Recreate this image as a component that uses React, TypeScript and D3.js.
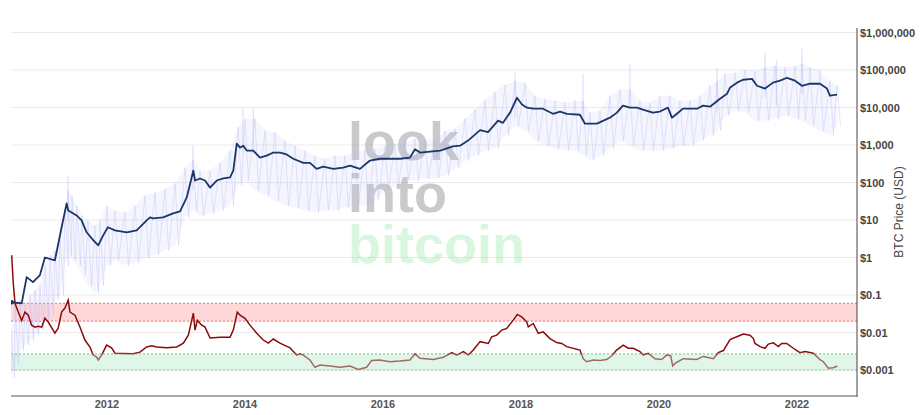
import React, { useEffect, useRef } from 'react'
import * as d3 from 'd3'

// BTC price (decimal year, USD)
const priceSeries: [number, number][] = [
  [2010.619, 0.064], [2010.764, 0.06], [2010.836, 0.3], [2010.928, 0.22], [2011.029, 0.34], [2011.101, 1.0],
  [2011.246, 0.84], [2011.343, 6.4], [2011.416, 27.6], [2011.439, 18], [2011.561, 13.2], [2011.633, 9.8],
  [2011.706, 4.7], [2011.801, 2.9], [2011.874, 2.1], [2011.946, 3.9], [2012.014, 6.4], [2012.116, 5.3],
  [2012.286, 4.7], [2012.43, 5.3], [2012.575, 9.8], [2012.623, 11.7], [2012.667, 11], [2012.812, 11.7],
  [2012.957, 15], [2013.058, 17], [2013.155, 40], [2013.251, 208], [2013.275, 113], [2013.348, 128],
  [2013.42, 113], [2013.493, 73], [2013.59, 113], [2013.686, 128], [2013.783, 137], [2013.83, 208],
  [2013.88, 1090], [2013.928, 850], [2013.975, 960], [2014.025, 710], [2014.12, 710], [2014.217, 460],
  [2014.314, 520], [2014.41, 630], [2014.507, 630], [2014.604, 560], [2014.7, 430], [2014.845, 335],
  [2014.942, 335], [2015.039, 230], [2015.135, 265], [2015.28, 230], [2015.425, 250], [2015.522, 283],
  [2015.667, 230], [2015.812, 385], [2015.957, 430], [2016.246, 430], [2016.391, 460], [2016.464, 770],
  [2016.536, 630], [2016.826, 710], [2017.014, 920], [2017.116, 960], [2017.232, 1310], [2017.406, 2500],
  [2017.522, 2200], [2017.667, 4460], [2017.739, 3900], [2017.841, 7300], [2017.942, 18200], [2018.014, 12000],
  [2018.087, 9900], [2018.174, 9300], [2018.319, 9300], [2018.464, 6800], [2018.565, 7800], [2018.667, 6800],
  [2018.855, 6400], [2018.928, 3700], [2019.101, 3700], [2019.29, 5350], [2019.391, 7300], [2019.478, 11200],
  [2019.58, 9900], [2019.681, 9900], [2019.768, 8800], [2019.913, 7300], [2020.014, 7800], [2020.13, 9900],
  [2020.188, 5350], [2020.261, 6800], [2020.348, 9300], [2020.551, 9300], [2020.638, 11200], [2020.739, 10500],
  [2020.884, 17100], [2020.986, 23300], [2021.029, 34000], [2021.13, 46000], [2021.217, 55000], [2021.348, 58000],
  [2021.42, 38000], [2021.536, 32000], [2021.652, 46000], [2021.754, 52000], [2021.855, 62000], [2021.971, 52000],
  [2022.072, 38000], [2022.188, 43000], [2022.333, 43000], [2022.435, 32000], [2022.478, 20600], [2022.58, 22000],
]

// ratio indicator (decimal year, value)
const ratioSeries: [number, number][] = [
  [2010.619, 1.15], [2010.642, 0.206], [2010.667, 0.06], [2010.714, 0.035], [2010.764, 0.021], [2010.812, 0.035],
  [2010.859, 0.029], [2010.908, 0.0157], [2010.957, 0.0139], [2011.004, 0.0147], [2011.054, 0.0139], [2011.101, 0.024],
  [2011.149, 0.019], [2011.246, 0.0096], [2011.293, 0.013], [2011.343, 0.035], [2011.391, 0.045], [2011.439, 0.073],
  [2011.464, 0.035], [2011.536, 0.029], [2011.609, 0.014], [2011.681, 0.0063], [2011.754, 0.0041], [2011.801, 0.0025],
  [2011.851, 0.0022], [2011.874, 0.00185], [2011.923, 0.0025], [2011.996, 0.0046], [2012.068, 0.0039], [2012.116, 0.0028],
  [2012.377, 0.0027], [2012.478, 0.003], [2012.575, 0.0041], [2012.648, 0.0044], [2012.72, 0.0041], [2012.865, 0.0039],
  [2013.01, 0.0041], [2013.106, 0.0052], [2013.178, 0.0085], [2013.251, 0.033], [2013.275, 0.0116], [2013.309, 0.021],
  [2013.372, 0.0157], [2013.42, 0.0139], [2013.493, 0.0071], [2013.638, 0.0075], [2013.783, 0.0075], [2013.83, 0.0116],
  [2013.888, 0.035], [2013.928, 0.029], [2014.0, 0.024], [2014.072, 0.0157], [2014.17, 0.0096], [2014.265, 0.0063],
  [2014.338, 0.0052], [2014.41, 0.0067], [2014.507, 0.0052], [2014.652, 0.0039], [2014.749, 0.0025], [2014.797, 0.0027],
  [2014.845, 0.0025], [2014.942, 0.00185], [2015.014, 0.00118], [2015.087, 0.00136], [2015.232, 0.00128], [2015.377, 0.00118],
  [2015.522, 0.00128], [2015.642, 0.00104], [2015.764, 0.00118], [2015.836, 0.0018], [2015.957, 0.00185], [2016.101, 0.00166],
  [2016.246, 0.00174], [2016.391, 0.00185], [2016.464, 0.0027], [2016.536, 0.00205], [2016.729, 0.0019], [2016.874, 0.00218],
  [2016.996, 0.0029], [2017.068, 0.0025], [2017.164, 0.0031], [2017.236, 0.0025], [2017.309, 0.0034], [2017.406, 0.0057],
  [2017.526, 0.0051], [2017.575, 0.0077], [2017.648, 0.0085], [2017.72, 0.0116], [2017.793, 0.0128], [2017.888, 0.0214],
  [2017.946, 0.0303], [2018.01, 0.026], [2018.083, 0.0193], [2018.106, 0.0141], [2018.178, 0.0174], [2018.251, 0.0095],
  [2018.323, 0.0104], [2018.42, 0.0069], [2018.517, 0.0054], [2018.59, 0.0051], [2018.662, 0.0042], [2018.855, 0.0034],
  [2018.903, 0.002], [2018.952, 0.00166], [2019.048, 0.00185], [2019.145, 0.0018], [2019.242, 0.0019], [2019.314, 0.00236],
  [2019.386, 0.0034], [2019.483, 0.0046], [2019.555, 0.0038], [2019.628, 0.0038], [2019.725, 0.0031], [2019.772, 0.0025],
  [2019.845, 0.0028], [2019.942, 0.002], [2020.039, 0.0019], [2020.112, 0.0025], [2020.17, 0.0024], [2020.199, 0.00128],
  [2020.232, 0.0015], [2020.352, 0.002], [2020.546, 0.0019], [2020.642, 0.0023], [2020.787, 0.002], [2020.859, 0.0029],
  [2020.932, 0.0033], [2021.029, 0.0065], [2021.126, 0.0077], [2021.222, 0.0091], [2021.319, 0.0085], [2021.367, 0.0069],
  [2021.391, 0.0051], [2021.464, 0.0042], [2021.536, 0.0038], [2021.584, 0.0049], [2021.657, 0.0053], [2021.729, 0.0042],
  [2021.778, 0.0051], [2021.851, 0.0051], [2021.946, 0.0038], [2022.043, 0.0029], [2022.116, 0.0031], [2022.236, 0.0028],
  [2022.333, 0.0019], [2022.381, 0.00166], [2022.454, 0.00111], [2022.526, 0.00115], [2022.584, 0.00128],
]

// noisy daily series, read as typical high / low envelope
const noiseYears = [
  2010.609, 2010.667, 2010.739, 2010.812, 2010.884, 2010.957, 2011.029, 2011.101, 2011.174, 2011.246, 2011.319, 2011.391,
  2011.435, 2011.493, 2011.565, 2011.638, 2011.725, 2011.826, 2011.899, 2012.0, 2012.116, 2012.261, 2012.406, 2012.551,
  2012.696, 2012.841, 2012.986, 2013.13, 2013.246, 2013.348, 2013.493, 2013.638, 2013.783, 2013.899, 2014.0, 2014.145,
  2014.29, 2014.435, 2014.58, 2014.725, 2014.87, 2015.014, 2015.159, 2015.304, 2015.449, 2015.594, 2015.739, 2015.884,
  2016.029, 2016.174, 2016.319, 2016.464, 2016.609, 2016.754, 2016.899, 2017.043, 2017.188, 2017.333, 2017.478, 2017.623,
  2017.768, 2017.913, 2018.058, 2018.203, 2018.348, 2018.493, 2018.638, 2018.783, 2018.899, 2019.0, 2019.145, 2019.29,
  2019.435, 2019.58, 2019.725, 2019.87, 2020.014, 2020.159, 2020.304, 2020.449, 2020.594, 2020.739, 2020.841, 2020.957,
  2021.101, 2021.246, 2021.391, 2021.536, 2021.681, 2021.826, 2021.971, 2022.072, 2022.188, 2022.333, 2022.478, 2022.58,
]
const noiseHigh = [
  0.0116, 0.054, 0.073, 0.054, 0.1, 0.134, 0.18, 0.62, 1.15, 1.55, 3.9, 20,
  60, 45, 24, 13, 9.8, 7.2, 9.8, 24, 18, 16, 24, 45,
  54, 67, 94, 250, 400, 208, 208, 340, 710, 3000, 5000, 5000,
  2410, 2200, 1310, 960, 710, 520, 430, 520, 520, 630, 710, 800,
  960, 1090, 1170, 1490, 1310, 1490, 2410, 2700, 5000, 9000, 16000, 26000,
  40000, 50000, 45000, 20600, 17000, 15200, 13500, 15200, 15000, 7300, 8200, 20600,
  30000, 30000, 15200, 13500, 20600, 20600, 15200, 15200, 20600, 38000, 50000, 80000,
  84000, 100000, 95000, 120000, 130000, 120000, 130000, 150000, 120000, 95000, 52000, 38000,
]
const noiseLow = [
  0.00065, 0.0014, 0.0034, 0.0046, 0.0063, 0.0085, 0.0116, 0.021, 0.029, 0.073, 0.1, 0.62,
  1.15, 0.84, 0.62, 0.34, 0.18, 0.11, 0.18, 0.62, 0.84, 0.62, 0.74, 0.95,
  1.15, 1.55, 2.1, 11.7, 18, 13, 15, 18, 24, 83, 113, 61,
  45, 33, 24, 21.6, 18, 16, 18, 18, 21.6, 24, 24, 33,
  61, 83, 113, 113, 128, 128, 154, 236, 385, 520, 710, 800,
  1780, 3280, 2410, 1310, 960, 800, 710, 710, 520, 385, 520, 800,
  1310, 960, 710, 710, 710, 800, 960, 960, 1310, 1780, 2410, 6050,
  8200, 7300, 4460, 4460, 5000, 6050, 5000, 4460, 3280, 2410, 1780, 3280,
]
// isolated spikes above the envelope
const noiseSpikes: [number, number][] = [
  [2011.435, 154], [2013.246, 960], [2013.97, 9300], [2014.12, 9300], [2017.913, 84000], [2018.899, 79000],
  [2019.58, 146000], [2020.841, 115000], [2021.536, 287000], [2021.7, 176000], [2022.072, 366000],
]

const yTicks = [1e6, 1e5, 1e4, 1e3, 100, 10, 1, 0.1, 0.01, 0.001]
const tickLabels = ['$1,000,000', '$100,000', '$10,000', '$1,000', '$100', '$10', '$1', '$0.1', '$0.01', '$0.001']
const redBand = [0.02, 0.06]
const greenBand = [0.001, 0.0027]

const toDate = (y: number) => {
  const yr = Math.floor(y)
  const a = Date.UTC(yr, 0, 1), b = Date.UTC(yr + 1, 0, 1)
  return new Date(a + (y - yr) * (b - a))
}

export default function App() {
  const ref = useRef<SVGSVGElement | null>(null)

  useEffect(() => {
    const svg = d3.select(ref.current!)
    svg.selectAll('*').remove()
    const left = 11, right = 857, top = 28, bottom = 396

    const x = d3.scaleTime().domain([toDate(2010.609), toDate(2022.87)]).range([left, right])
    const y = d3.scaleLog().domain([1e-3, 1e6]).range([370, 32.5])

    const defs = svg.append('defs')
    defs.append('clipPath').attr('id', 'plot').append('rect')
      .attr('x', left).attr('y', top).attr('width', right - left).attr('height', bottom - top)
    const grad = defs.append('linearGradient').attr('id', 'ratioGrad')
      .attr('gradientUnits', 'userSpaceOnUse').attr('x1', 0).attr('x2', 0).attr('y1', y(0.01)).attr('y2', y(0.001))
    grad.append('stop').attr('offset', 0).attr('stop-color', '#8b0a0a')
    grad.append('stop').attr('offset', 0.52).attr('stop-color', '#8b0a0a')
    grad.append('stop').attr('offset', 0.62).attr('stop-color', '#9e6b62')
    grad.append('stop').attr('offset', 1).attr('stop-color', '#9e6b62')

    // gridlines
    svg.append('g').selectAll('line').data(yTicks).enter().append('line')
      .attr('x1', left).attr('x2', right).attr('y1', d => y(d)).attr('y2', d => y(d))
      .attr('stroke', '#ebebeb').attr('stroke-width', 1.2)

    // bands
    const bands = [
      { r: redBand, fill: 'rgba(255,80,80,0.22)', stroke: '#f08a8a' },
      { r: greenBand, fill: 'rgba(60,200,120,0.16)', stroke: '#8fcf9c' },
    ]
    bands.forEach(b => {
      svg.append('rect').attr('x', left).attr('width', right - left)
        .attr('y', y(b.r[1])).attr('height', y(b.r[0]) - y(b.r[1])).attr('fill', b.fill)
      b.r.forEach(v => svg.append('line').attr('x1', left).attr('x2', right).attr('y1', y(v)).attr('y2', y(v))
        .attr('stroke', b.stroke).attr('stroke-width', 1.2).attr('stroke-dasharray', '2,2'))
    })

    // watermark
    const wm = svg.append('g').attr('font-family', '"Liberation Sans", Arial, sans-serif').attr('font-weight', 700).attr('font-size', 54)
    wm.append('text').attr('x', 348).attr('y', 160).attr('fill', 'rgba(150,150,150,0.5)').text('look')
    wm.append('text').attr('x', 348).attr('y', 212).attr('fill', 'rgba(150,150,150,0.5)').text('into')
    wm.append('text').attr('x', 348).attr('y', 263).attr('fill', 'rgba(120,225,140,0.28)').text('bitcoin')

    const plot = svg.append('g').attr('clip-path', 'url(#plot)')

    // noisy series
    const idx = noiseYears.map((_, i) => i)
    const area = d3.area<number>().x(i => x(toDate(noiseYears[i]))).y0(i => y(noiseLow[i])).y1(i => y(noiseHigh[i]))
    plot.append('path').datum(idx).attr('d', area).attr('fill', 'rgba(190,190,250,0.16)')
    const zig: [number, number][] = []
    idx.forEach(i => {
      const t = x(toDate(noiseYears[i]))
      zig.push([t, y(noiseHigh[i])])
      zig.push([t + 3.5, y(noiseLow[i])])
    })
    plot.append('path').datum(zig).attr('d', d3.line()).attr('fill', 'none')
      .attr('stroke', 'rgba(180,180,250,0.42)').attr('stroke-width', 0.8)
    plot.append('g').selectAll('line').data(noiseSpikes).enter().append('line')
      .attr('x1', d => x(toDate(d[0]))).attr('x2', d => x(toDate(d[0])))
      .attr('y1', d => y(d[1])).attr('y2', d => y(d[1]) + 45)
      .attr('stroke', 'rgba(180,180,250,0.5)').attr('stroke-width', 1)

    // ratio line
    const line = d3.line<[number, number]>().x(d => x(toDate(d[0]))).y(d => y(d[1]))
    plot.append('path').datum(ratioSeries).attr('d', line).attr('fill', 'none')
      .attr('stroke', 'url(#ratioGrad)').attr('stroke-width', 1.5)

    // price line
    plot.append('path').datum(priceSeries).attr('d', line).attr('fill', 'none')
      .attr('stroke', '#1b3768').attr('stroke-width', 1.8).attr('stroke-linejoin', 'round')
    plot.append('circle').attr('cx', x(toDate(priceSeries[0][0]))).attr('cy', y(priceSeries[0][1])).attr('r', 2.2).attr('fill', '#1b3768')

    // axes
    svg.append('line').attr('x1', left).attr('x2', right).attr('y1', bottom).attr('y2', bottom).attr('stroke', '#aaa').attr('stroke-width', 2)
    svg.append('line').attr('x1', right).attr('x2', right).attr('y1', top).attr('y2', bottom + 1).attr('stroke', '#444').attr('stroke-width', 1)

    svg.append('g').selectAll('text').data(x.ticks(d3.timeYear.every(2)!)).enter().append('text')
      .attr('x', d => x(d)).attr('y', 408).attr('text-anchor', 'middle')
      .attr('font-family', 'Arial, "Liberation Sans", sans-serif').attr('font-weight', 700).attr('font-size', 11).attr('fill', '#555')
      .text(d => d3.timeFormat('%Y')(d))

    svg.append('g').selectAll('text').data(yTicks).enter().append('text')
      .attr('x', 860).attr('y', d => y(d) + 4)
      .attr('font-family', 'Arial, "Liberation Sans", sans-serif').attr('font-weight', 700).attr('font-size', 11).attr('fill', '#444')
      .text((_, i) => tickLabels[i])

    svg.append('text').attr('transform', 'translate(903,212) rotate(-90)').attr('text-anchor', 'middle')
      .attr('font-family', 'Arial, "Liberation Sans", sans-serif').attr('font-size', 12).attr('fill', '#444')
      .text('BTC Price (USD)')
  }, [])

  return <svg ref={ref} width={922} height={415} style={{ position: 'absolute', left: 0, top: 0, background: '#fff' }} />
}
